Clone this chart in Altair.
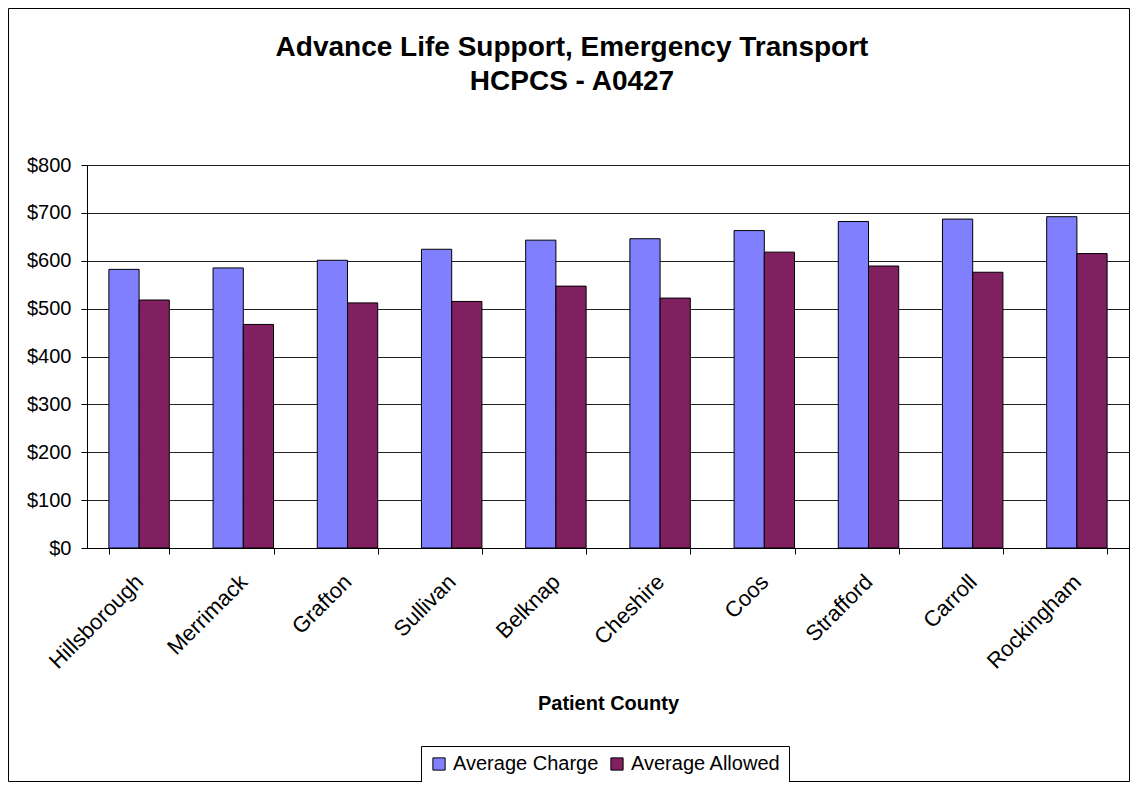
import altair as alt
import pandas as pd

counties = ["Hillsborough", "Merrimack", "Grafton", "Sullivan", "Belknap",
            "Cheshire", "Coos", "Strafford", "Carroll", "Rockingham"]
average_charge = [582, 585, 601, 624, 643, 646, 663, 682, 687, 692]
average_allowed = [518, 467, 512, 515, 547, 522, 618, 589, 576, 615]
series_names = ["Average Charge", "Average Allowed"]
series_colors = ["#8080FF", "#802060"]

rows = []
for c, ch, al in zip(counties, average_charge, average_allowed):
    rows.append({"county": c, "series": series_names[0], "value": ch})
    rows.append({"county": c, "series": series_names[1], "value": al})
df = pd.DataFrame(rows)

FONT = "Liberation Sans"
W, H = 1042, 383
PAD_L, PAD_T, PAD_R, PAD_B = 79, 157, 1, 234

bars = alt.Chart(df).mark_bar(stroke="black", strokeWidth=1).encode(
    x=alt.X("county:N", sort=counties,
            scale=alt.Scale(paddingInner=0.42, paddingOuter=0.21),
            axis=alt.Axis(title="Patient County", labelAngle=-45, labelAlign="right",
                          labelBaseline="middle", labelPadding=24, tickBand="extent",
                          tickSize=6, tickColor="black", domainColor="black",
                          labelFontSize=22, labelFont=FONT, labelColor="black",
                          titleFontSize=20, titleFont=FONT, titleFontWeight="bold",
                          titleColor="black", titlePadding=21)),
    xOffset=alt.XOffset("series:N", sort=series_names),
    y=alt.Y("value:Q", scale=alt.Scale(domain=[0, 800]),
            axis=alt.Axis(title=None, values=[0, 100, 200, 300, 400, 500, 600, 700, 800],
                          format="$,.0f", labelFontSize=20, labelFont=FONT,
                          labelColor="black", tickSize=6, tickColor="black",
                          domainColor="black", gridColor="#222222", gridOpacity=1,
                          labelPadding=10)),
    color=alt.Color("series:N", sort=series_names,
                    scale=alt.Scale(domain=series_names, range=series_colors),
                    legend=alt.Legend(title=None, orient="none", legendX=334, legendY=581,
                                      direction="horizontal", symbolType="square",
                                      symbolSize=150, symbolStrokeColor="black",
                                      symbolStrokeWidth=1, labelFontSize=20,
                                      labelFont=FONT, labelColor="black",
                                      strokeColor="black", fillColor="white",
                                      padding=8, columnPadding=8, labelOffset=4)),
)

border = alt.Chart(alt.Data(values=[{}])).mark_rect(
    fill=None, stroke="black", strokeWidth=1
).encode(
    x=alt.value(-PAD_L + 0.5), x2=alt.value(W + PAD_R - 0.5),
    y=alt.value(-PAD_T + 0.5), y2=alt.value(H + PAD_B - 0.5)
)

chart = alt.layer(border, bars).properties(
    width=W, height=H,
    title=alt.TitleParams(
        text=["Advance Life Support, Emergency Transport", "HCPCS - A0427"],
        fontSize=28, font=FONT, fontWeight="bold", color="black",
        lineHeight=34, offset=-88, anchor="middle", dx=-36),
    autosize=alt.AutoSizeParams(type="none"),
    padding={"left": PAD_L, "top": PAD_T, "right": PAD_R, "bottom": PAD_B},
).configure_view(
    fill="#C0C0C0", stroke="#808080", strokeWidth=2
).configure(background="white")

chart.save("out.html", embed_options={"renderer": "svg", "actions": False})
